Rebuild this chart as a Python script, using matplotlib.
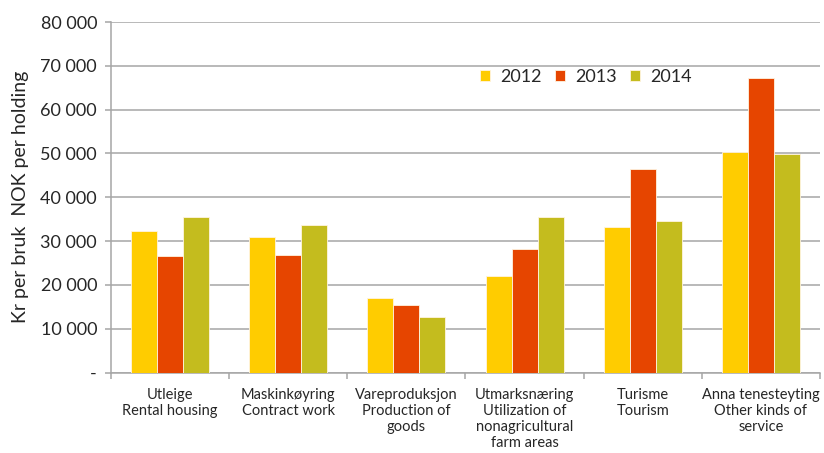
import numpy as np
import matplotlib
matplotlib.use("Agg")
import matplotlib.pyplot as plt
from matplotlib.ticker import FuncFormatter, FixedLocator, NullFormatter

categories = ["Utleige\nRental housing",
              "Maskinkøyring\nContract work",
              "Vareproduksjon\nProduction of\ngoods",
              "Utmarksnæring\nUtilization of\nnonagricultural\nfarm areas",
              "Turisme\nTourism",
              "Anna tenesteyting\nOther kinds of\nservice"]
years = ["2012", "2013", "2014"]
v2012 = [32300, 31000, 17000, 22100, 33200, 50400]
v2013 = [26500, 26900, 15400, 28200, 46400, 67200]
v2014 = [35500, 33600, 12600, 35500, 34500, 49800]
colors = ["#FFCC00", "#E64500", "#C4BC1E"]

plt.rcParams["font.family"] = ["Lato", "DejaVu Sans"]
textcolor = "#262626"
gridcolor = "#A6A6A6"

fig = plt.figure(figsize=(8.24, 4.53), dpi=100)
ax = fig.add_axes([0.1347, 0.1777, 0.8604, 0.7737])

x = np.arange(len(categories))
w = 0.22
for i, (vals, yr) in enumerate(zip([v2012, v2013, v2014], years)):
	ax.bar(x + (i - 1) * w, vals, width=w, color=colors[i], label=yr,
		edgecolor="#FFF4E0", linewidth=0.6, zorder=3)

ax.set_xlim(-0.5, len(categories) - 0.5)
ax.set_ylim(0, 80000)

# y-axis
ax.set_yticks(np.arange(0, 80001, 10000))
ax.yaxis.set_major_formatter(FuncFormatter(lambda v, p: "-" if v == 0 else "{:,.0f}".format(v).replace(",", " ")))
ax.tick_params(axis="y", direction="out", length=4, width=1.1, color=gridcolor,
	labelsize=13, labelcolor=textcolor, pad=6)
ax.grid(axis="y", color=gridcolor, linewidth=1.1, zorder=0)
ax.set_ylabel("Kr per bruk  NOK per holding", fontsize=14, color=textcolor, labelpad=8)

# x-axis
ax.xaxis.set_major_locator(FixedLocator(x))
ax.set_xticklabels(categories, fontsize=10.5, color=textcolor, linespacing=1.2, va="top")
ax.tick_params(axis="x", which="major", length=0, pad=11)
ax.xaxis.set_minor_locator(FixedLocator(np.arange(-0.5, len(categories), 1.0)))
ax.xaxis.set_minor_formatter(NullFormatter())
ax.tick_params(axis="x", which="minor", direction="out", length=4, width=1.1, color=gridcolor)

for s in ["top", "right"]:
	ax.spines[s].set_visible(False)
for s in ["left", "bottom"]:
	ax.spines[s].set_color(gridcolor)
	ax.spines[s].set_linewidth(1.1)

leg = ax.legend(loc="center", bbox_to_anchor=(0.67, 0.843), ncol=3, frameon=False,
	fontsize=13, handlelength=0.55, handleheight=0.55, handletextpad=0.6, columnspacing=0.7)
for t in leg.get_texts():
	t.set_color(textcolor)

plt.savefig("out.png", dpi=100)
